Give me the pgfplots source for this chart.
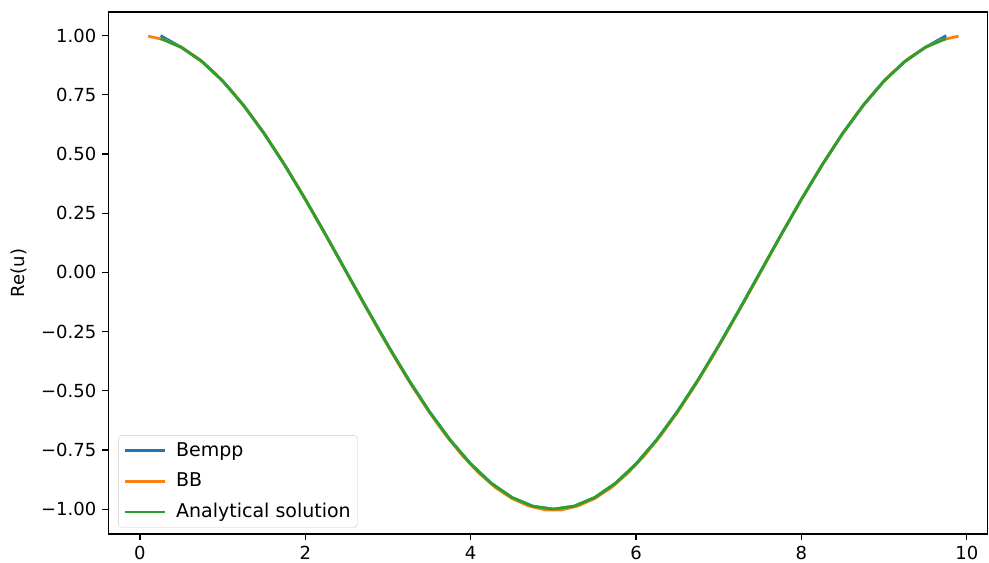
\documentclass[border=0pt]{standalone}
\usepackage{fontspec}
\setmainfont{DejaVu Sans}
\usepackage{pgfplots}
\usetikzlibrary{calc}
\pgfplotsset{compat=1.18}
\definecolor{tabblue}{HTML}{1F77B4}
\definecolor{taborange}{HTML}{FF7F0E}
\definecolor{tabgreen}{HTML}{2CA02C}
\begin{document}
\fontsize{18}{21}\selectfont
\begin{tikzpicture}
\begin{axis}[
  name=ax,
  scale only axis,
  width=879pt, height=522pt,
  xmin=-0.38, xmax=10.25,
  ymin=-1.105, ymax=1.1,
  axis line style={line width=1.2pt},
  tick style={line width=1.2pt, black},
  tick align=outside,
  major tick length=6pt,
  xtick={0,2,4,6,8,10},
  xticklabels={0,2,4,6,8,10},
  ytick={-1,-0.75,-0.5,-0.25,0,0.25,0.5,0.75,1},
  yticklabels={−1.00,−0.75,−0.50,−0.25,0.00,0.25,0.50,0.75,1.00},
  xtick pos=bottom, ytick pos=left,
  ticklabel style={font=\fontsize{18}{21}\selectfont},
  ylabel={Re(u)},
  ylabel style={font=\fontsize{18}{21}\selectfont, yshift=2pt},
  legend cell align=left,
  legend style={font=\fontsize{19}{22}\selectfont, draw=black!20, rounded corners=4pt, fill=white, fill opacity=0.8, text opacity=1, inner xsep=5pt, inner ysep=5pt, row sep=10pt, at={(0.011,0.012)}, anchor=south west,
    /tikz/every odd column/.append style={column sep=8pt}},
  legend image code/.code={\draw[#1, line width=2.8pt] (0pt,0pt) -- (40pt,0pt);},
  every axis plot/.append style={line width=2.8pt},
]
\addplot[tabblue, line width=2.8pt] coordinates {
(0.25,1.0) (0.5,0.95106) (0.75,0.89101) (1.0,0.80902) (1.25,0.70711) (1.5,0.58779) (1.75,0.45399) (2.0,0.30902) (2.25,0.15643) (2.5,0) (2.75,-0.15643) (3.0,-0.30902) (3.25,-0.45399) (3.5,-0.58779) (3.75,-0.70711) (4.0,-0.80902) (4.25,-0.89101) (4.5,-0.95106) (4.75,-0.98769) (5.0,-1.0) (5.25,-0.98769) (5.5,-0.95106) (5.75,-0.89101) (6.0,-0.80902) (6.25,-0.70711) (6.5,-0.58779) (6.75,-0.45399) (7.0,-0.30902) (7.25,-0.15643) (7.5,0) (7.75,0.15643) (8.0,0.30902) (8.25,0.45399) (8.5,0.58779) (8.75,0.70711) (9.0,0.80902) (9.25,0.89101) (9.5,0.95106) (9.75,1.0)
};
\addlegendentry{Bempp}
\addplot[taborange, line width=2.8pt] coordinates {
(0.1,0.99803) (0.3,0.98229) (0.5,0.95106) (0.7,0.90483) (0.9,0.84433) (1.1,0.77051) (1.3,0.68455) (1.5,0.58779) (1.7,0.48175) (1.9,0.36812) (2.1,0.24869) (2.3,0.12533) (2.5,-0.002) (2.7,-0.127) (2.9,-0.251) (3.1,-0.371) (3.3,-0.485) (3.5,-0.591) (3.7,-0.688) (3.9,-0.774) (4.1,-0.848) (4.3,-0.909) (4.5,-0.955) (4.7,-0.986) (4.9,-1.003) (5.1,-1.003) (5.3,-0.986) (5.5,-0.955) (5.7,-0.909) (5.9,-0.848) (6.1,-0.774) (6.3,-0.688) (6.5,-0.591) (6.7,-0.485) (6.9,-0.371) (7.1,-0.251) (7.3,-0.127) (7.5,-0.002) (7.7,0.12533) (7.9,0.24869) (8.1,0.36812) (8.3,0.48175) (8.5,0.58779) (8.7,0.68455) (8.9,0.77051) (9.1,0.84433) (9.3,0.90483) (9.5,0.95106) (9.7,0.98229) (9.9,0.99803)
};
\addlegendentry{BB}
\addplot[tabgreen, line width=2.8pt] coordinates {
(0.25,0.98769) (0.5,0.95106) (0.75,0.89101) (1.0,0.80902) (1.25,0.70711) (1.5,0.58779) (1.75,0.45399) (2.0,0.30902) (2.25,0.15643) (2.5,0) (2.75,-0.15643) (3.0,-0.30902) (3.25,-0.45399) (3.5,-0.58779) (3.75,-0.70711) (4.0,-0.80902) (4.25,-0.89101) (4.5,-0.95106) (4.75,-0.98769) (5.0,-1.0) (5.25,-0.98769) (5.5,-0.95106) (5.75,-0.89101) (6.0,-0.80902) (6.25,-0.70711) (6.5,-0.58779) (6.75,-0.45399) (7.0,-0.30902) (7.25,-0.15643) (7.5,0) (7.75,0.15643) (8.0,0.30902) (8.25,0.45399) (8.5,0.58779) (8.75,0.70711) (9.0,0.80902) (9.25,0.89101) (9.5,0.95106) (9.75,0.98769)
};
\addlegendentry{Analytical solution}
\end{axis}
\pgfresetboundingbox
\path ($(ax.south west)+(-108.5pt,-28pt)$) rectangle ($(ax.north east)+(1.5pt,12pt)$);
\end{tikzpicture}
\end{document}
